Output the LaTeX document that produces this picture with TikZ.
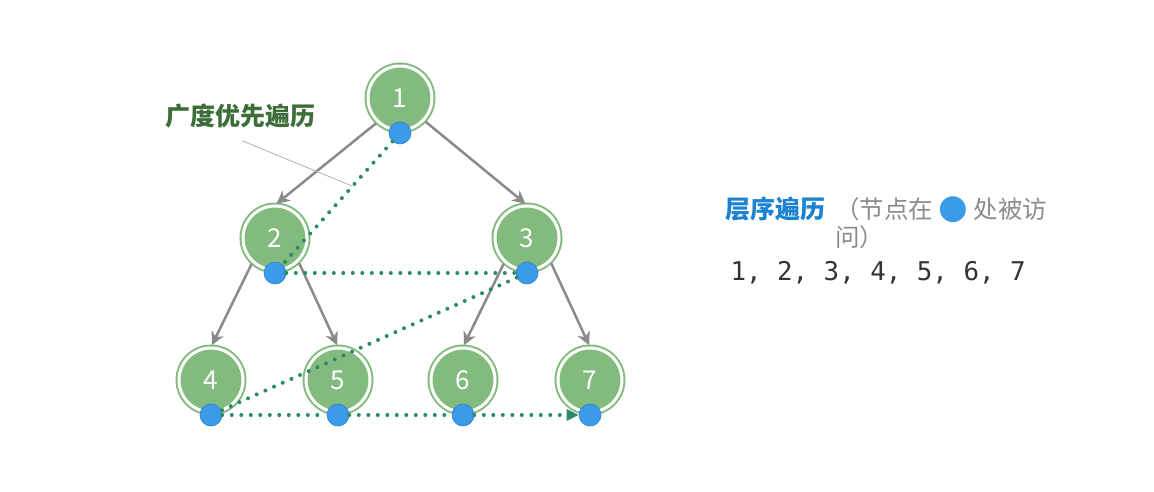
\documentclass[tikz,border=0pt]{standalone}
\usepackage{fontspec}
\usepackage{xcolor}
\setmainfont{Noto Sans CJK SC}
\newfontfamily\seqfont{DejaVu Sans Mono}
\newfontfamily\symfont{DejaVu Sans}
\usetikzlibrary{positioning, arrows.meta}
\definecolor{nodegreen}{HTML}{83BA7E}
\definecolor{dotblue}{HTML}{3B9BE8}
\definecolor{dotedge}{HTML}{2C80CC}
\definecolor{edgegray}{HTML}{8A8A8A}
\definecolor{trailteal}{HTML}{2C8A6C}
\definecolor{titlegreen}{HTML}{3D6E3A}
\definecolor{headblue}{HTML}{1C83D0}
\definecolor{notegray}{HTML}{8C8C8C}

\begin{document}
\begin{tikzpicture}[x=1pt, y=-1pt,
    every node/.style={font=\fontsize{24.5}{28}\selectfont},
    treenode/.style={circle, fill=nodegreen, draw=nodegreen, double=white,
      double distance=3pt, line width=2pt, minimum size=64pt, inner sep=0pt,
      text=white, font=\fontsize{26}{28}\selectfont},
    visit/.style={circle, fill=dotblue, draw=dotedge, line width=0.6pt,
      minimum size=22pt, inner sep=0pt},
    edge/.style={-{Stealth[length=13pt, width=13pt, inset=4pt]}, draw=edgegray,
      line width=2.5pt, shorten <=2pt, shorten >=2pt},
    trail/.style={draw=trailteal, line width=4pt, line cap=round,
      dash pattern=on 0pt off 9.5pt},
    leader/.style={draw=gray!60, line width=0.8pt}]
  \fill[white] (0,0) rectangle (1154,492);
  \useasboundingbox (0,0) rectangle (1154,492);

  % tree
  \node[treenode] (n1) at (400,98) {1};
  \node[treenode] (n2) at (275,238) {2};
  \node[treenode] (n3) at (527,238) {3};
  \node[treenode] (n4) at (211,380) {4};
  \node[treenode] (n5) at (338,380) {5};
  \node[treenode] (n6) at (463,380) {6};
  \node[treenode] (n7) at (590,380) {7};
  \draw[edge] (n1.-133) -- (n2.north);
  \draw[edge] (n1.-43) -- (n3.north);
  \draw[edge] (n2.-133) -- (n4.north);
  \draw[edge] (n2.-45) -- (n5.north);
  \draw[edge] (n3.-133) -- (n6.north);
  \draw[edge] (n3.-45) -- (n7.north);

  % visit points
  \foreach \i in {1,...,7}
    \node[visit] (v\i) at ([yshift=-2pt]n\i.south) {};
  \draw[trail] (v1) -- (v2) -- (v3) -- (v4) -- (v5) -- (v6);
  \draw[trail, -{Triangle[length=12pt, width=11pt]}] (v6) -- (v7);

  % labels
  \node[text=titlegreen, font=\fontsize{25}{28}\selectfont\bfseries] (bfs) at (240,116) {广度优先遍历};
  \coordinate (lead) at (352,186);
  \draw[leader] ([xshift=2pt, yshift=-9pt]bfs.south) -- (lead);

  \node[text=headblue, font=\fontsize{25}{28}\selectfont\bfseries, anchor=west] (lvl) at (722,209) {层序遍历};
  \node[text=notegray, align=left, right=6pt of lvl.north east, anchor=north west, inner sep=0pt, yshift=-3pt] (note)
    {（节点在 {\color{dotblue}\symfont\fontsize{34}{28}\selectfont ●} 处被访\\问）};
  \node[anchor=west, text=black!80, font=\fontsize{25.8}{28}\seqfont] (order) at (727,273) {1, 2, 3, 4, 5, 6, 7};
\end{tikzpicture}
\end{document}
